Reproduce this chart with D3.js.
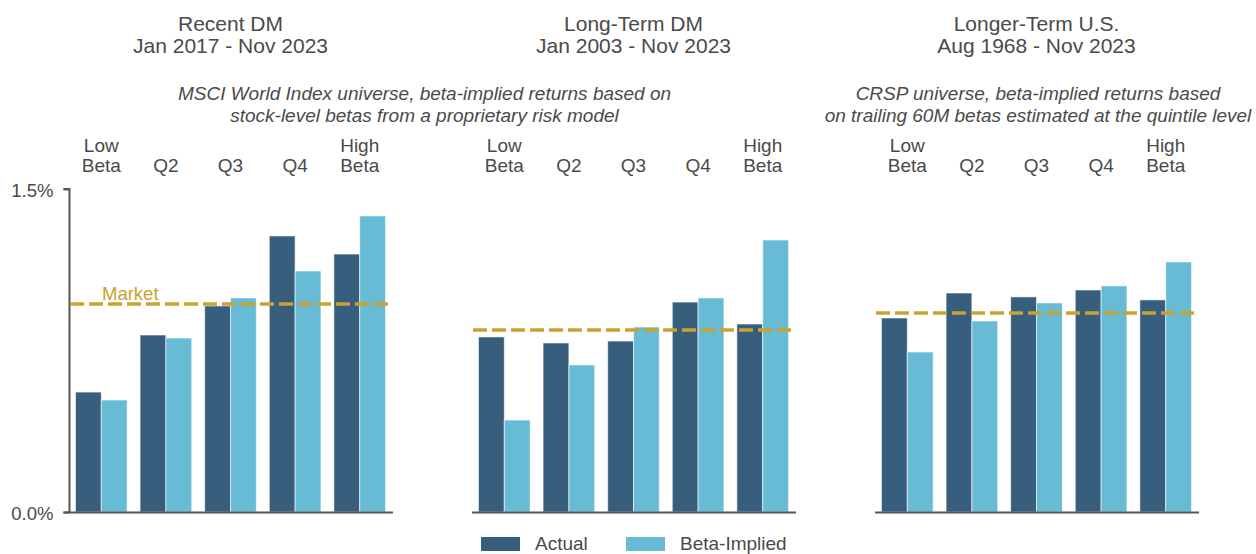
<!DOCTYPE html>
<html>
<head>
<meta charset="utf-8">
<script src="https://cdn.jsdelivr.net/npm/d3@7"></script>
<style>
  body { margin: 0; background: #fff; }
  svg text { font-family: "Liberation Sans", Arial, sans-serif; fill: #4a4a4a; }
</style>
</head>
<body>
<svg id="canvas" width="1256" height="554"></svg>
<script>
// quintile labels (two lines each)
const categories = [['Low', 'Beta'], ['', 'Q2'], ['', 'Q3'], ['', 'Q4'], ['High', 'Beta']];

const panelTitles = [
    ['Recent DM', 'Jan 2017 - Nov 2023'],
    ['Long-Term DM', 'Jan 2003 - Nov 2023'],
    ['Longer-Term U.S.', 'Aug 1968 - Nov 2023']
];

// average monthly returns, %
const actualValues = [
    [0.557, 0.822, 0.957, 1.282, 1.198],
    [0.813, 0.785, 0.794, 0.975, 0.873],
    [0.901, 1.017, 0.999, 1.031, 0.985]
];
const impliedValues = [
    [0.520, 0.808, 0.994, 1.119, 1.375],
    [0.427, 0.683, 0.859, 0.994, 1.263],
    [0.743, 0.887, 0.971, 1.050, 1.161]
];
const marketValues = [0.966, 0.845, 0.924];

const yTicks = [0, 1.5];
const seriesNames = ['Actual', 'Beta-Implied'];

const colActual = '#385e7e';
const colImplied = '#67bbd5';
const colMarket = '#c9a231';

const svg = d3.select('#canvas');

const y = d3.scaleLinear().domain([0, 1.5]).range([512, 189]);
const panelX = d3.scaleBand().domain([0, 1, 2]).range([69, 1198]).paddingInner(80 / 403);

// left axis (first panel only)
const yAxis = d3.axisLeft(y)
    .tickValues(yTicks)
    .tickFormat(d => d.toFixed(1) + '%')
    .tickSize(6)
    .tickPadding(10);
const axisG = svg.append('g').attr('transform', 'translate(69.5,0)').call(yAxis);
axisG.select('.domain').attr('stroke', '#555').attr('stroke-width', 2).attr('d', 'M-6,189H0V512');
axisG.selectAll('.tick line').attr('stroke', '#555').attr('stroke-width', 2);
axisG.selectAll('.tick text').style('font-size', '18.5px').attr('fill', '#4a4a4a').attr('dy', '0.38em');

panelTitles.forEach((title, p) => {
    const x0 = panelX(p);
    const x1 = x0 + panelX.bandwidth();
    const x = d3.scaleBand().domain(d3.range(5)).range([x0, x1]).paddingInner(0.2).paddingOuter(0.1);
    const xs = d3.scaleBand().domain(seriesNames).range([0, x.bandwidth()]);
    const g = svg.append('g');
    const cx = (x0 + x1) / 2;

    // titles
    g.append('text').attr('x', cx).attr('y', 31).attr('text-anchor', 'middle')
        .style('font-size', '21px').text(title[0]);
    g.append('text').attr('x', cx).attr('y', 53).attr('text-anchor', 'middle')
        .style('font-size', '21px').text(title[1]);

    // category labels
    categories.forEach((c, i) => {
        const mx = x(i) + x.bandwidth() / 2;
        g.append('text').attr('x', mx).attr('y', 152).attr('text-anchor', 'middle')
            .style('font-size', '19px').text(c[0]);
        g.append('text').attr('x', mx).attr('y', 172).attr('text-anchor', 'middle')
            .style('font-size', '19px').text(c[1]);
    });

    const rows = d3.range(5).map(i => ({ i, vals: [actualValues[p][i], impliedValues[p][i]] }));

    g.selectAll('g.grp').data(rows).enter().append('g')
        .attr('transform', d => 'translate(' + x(d.i) + ',0)')
        .selectAll('rect').data(d => d.vals.map((v, k) => ({ v, k })))
        .enter().append('rect')
        .attr('x', d => xs(seriesNames[d.k]))
        .attr('width', xs.bandwidth())
        .attr('y', d => y(d.v))
        .attr('height', d => y(0) - y(d.v))
        .attr('fill', d => d.k === 0 ? colActual : colImplied)
        .attr('stroke', 'rgba(255,255,255,0.6)')
        .attr('stroke-width', 1);

    // baseline
    g.append('line').attr('x1', p === 0 ? 63.5 : x0).attr('x2', x1 + 1)
        .attr('y1', y(0) + 0.5).attr('y2', y(0) + 0.5)
        .attr('stroke', '#555').attr('stroke-width', 2);

    // market line
    g.append('line').attr('x1', x0 + 1).attr('x2', x1)
        .attr('y1', y(marketValues[p])).attr('y2', y(marketValues[p]))
        .attr('stroke', colMarket).attr('stroke-width', 3.5)
        .attr('stroke-dasharray', '14,5');

    if (p === 0) {
        g.append('text').attr('x', 102).attr('y', y(marketValues[p]) - 4)
            .style('font-size', '18.5px').style('fill', colMarket).text('Market');
    }
});

// subtitles
const sub1 = ['MSCI World Index universe, beta-implied returns based on', 'stock-level betas from a proprietary risk model'];
const sub2 = ['CRSP universe, beta-implied returns based', 'on trailing 60M betas estimated at the quintile level'];
[[sub1, 424.5], [sub2, 1038]].forEach(([lines, cx]) => {
    lines.forEach((t, j) => {
        svg.append('text').attr('x', cx).attr('y', 100 + j * 22).attr('text-anchor', 'middle')
            .style('font-size', '19px').style('font-style', 'italic').text(t);
    });
});

// legend
const legend = svg.append('g');
const legendX = [481, 626];
seriesNames.forEach((s, k) => {
    legend.append('rect').attr('x', legendX[k]).attr('y', 537).attr('width', 39).attr('height', 14)
        .attr('fill', k === 0 ? colActual : colImplied);
    legend.append('text').attr('x', legendX[k] + 54).attr('y', 550)
        .style('font-size', '19px').text(s);
});
</script>
</body>
</html>
